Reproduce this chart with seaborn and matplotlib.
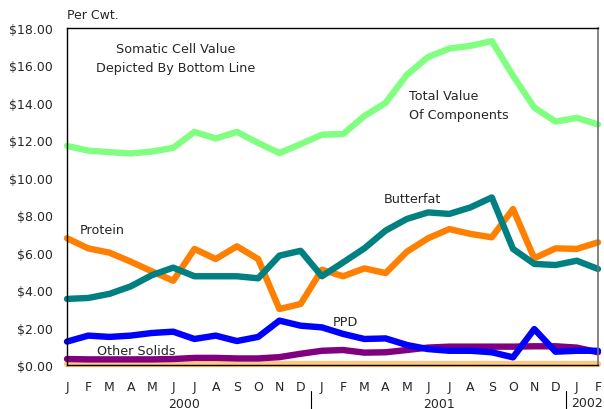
import matplotlib
matplotlib.use("Agg")
import matplotlib.pyplot as plt
import seaborn as sns
import numpy as np
import pandas as pd

months = ["J","F","M","A","M","J","J","A","S","O","N","D",
          "J","F","M","A","M","J","J","A","S","O","N","D",
          "J","F"]
years = ["2000", "2001", "2002"]

total_value = [11.7, 11.45, 11.37, 11.3, 11.4, 11.6, 12.45, 12.1, 12.45, 11.86, 11.32, 11.8,
               12.3, 12.34, 13.3, 14.0, 15.5, 16.45, 16.9, 17.05, 17.3, 15.45, 13.75, 13.0,
               13.2, 12.85]
butterfat = [3.53, 3.58, 3.8, 4.2, 4.8, 5.2, 4.74, 4.74, 4.74, 4.63, 5.84, 6.1,
             4.74, 5.48, 6.23, 7.18, 7.8, 8.15, 8.07, 8.42, 8.95, 6.2, 5.4, 5.34,
             5.57, 5.13]
protein = [6.77, 6.23, 6.0, 5.52, 5.0, 4.5, 6.2, 5.66, 6.34, 5.66, 2.99, 3.26,
           5.09, 4.74, 5.16, 4.91, 6.05, 6.77, 7.26, 7.0, 6.82, 8.33, 5.7, 6.23,
           6.2, 6.55]
ppd = [1.25, 1.57, 1.5, 1.57, 1.71, 1.78, 1.39, 1.57, 1.28, 1.5, 2.37, 2.1,
       2.01, 1.66, 1.39, 1.42, 1.07, 0.85, 0.76, 0.76, 0.68, 0.41, 1.92, 0.71,
       0.76, 0.76]
other_solids = [0.32, 0.30, 0.30, 0.30, 0.30, 0.32, 0.38, 0.38, 0.35, 0.35, 0.42, 0.6,
                0.76, 0.8, 0.66, 0.68, 0.8, 0.93, 0.98, 0.98, 0.98, 0.98, 1.0, 1.0,
                0.93, 0.68]
somatic_cell = [0.06] * 26

sns.set_style("white")
plt.rcParams['font.family'] = ['DejaVu Sans']

fig = plt.figure(figsize=(6.04, 4.10), dpi=100)
ax = fig.add_axes([67/604, 44/410, 531/604, 337/410])

x = np.arange(len(months))
series = [
    (somatic_cell, "#FFC880"),
    (other_solids, "#800080"),
    (ppd, "#0000FF"),
    (protein, "#FF8000"),
    (butterfat, "#008080"),
    (total_value, "#80FF80"),
]
for vals, col in series:
    sns.lineplot(x=x, y=vals, ax=ax, color=col, linewidth=4.6,
                 solid_capstyle="round", solid_joinstyle="round", clip_on=False)

fs_tick = 9
fs_ann = 9.2
ax.set_xlim(0, 25)
ax.set_ylim(0, 18)
ax.set_yticks(np.arange(0, 19, 2))
ax.set_yticklabels([f"${v:.2f}" for v in np.arange(0, 19, 2)], fontsize=fs_tick)
ax.set_xticks(x)
ax.set_xticklabels(months, fontsize=fs_tick)
ax.tick_params(axis="both", length=0)
ax.tick_params(axis="x", pad=11)
ax.tick_params(axis="y", pad=10)
for s in ["left", "top", "bottom"]:
    ax.spines[s].set_color("black")
    ax.spines[s].set_linewidth(1.0)
ax.spines["right"].set_color("#707070")
ax.spines["right"].set_linewidth(1.2)
ax.spines["bottom"].set_zorder(5)

# year labels and separators
trans = ax.get_xaxis_transform()
ax.text(5.5, -0.115, years[0], transform=trans, ha="center", va="center", fontsize=fs_tick)
ax.text(17.5, -0.115, years[1], transform=trans, ha="center", va="center", fontsize=fs_tick)
fig.text(603/604, (410-404)/410, years[2], ha="right", va="center", fontsize=fs_tick)
for xs in [11.5, 23.5]:
    ax.plot([xs, xs], [-0.078, -0.14], transform=trans, color="black", lw=0.8, clip_on=False)

ax.text(0.0, 1.04, "Per Cwt.", transform=ax.transAxes, ha="left", va="center", fontsize=fs_tick)
ax.text(5.1, 16.9, "Somatic Cell Value", ha="center", va="center", fontsize=fs_ann)
ax.text(5.1, 15.9, "Depicted By Bottom Line", ha="center", va="center", fontsize=fs_ann)
ax.text(16.1, 14.4, "Total Value", ha="left", va="center", fontsize=fs_ann)
ax.text(16.1, 13.4, "Of Components", ha="left", va="center", fontsize=fs_ann)
ax.text(14.9, 8.9, "Butterfat", ha="left", va="center", fontsize=fs_ann)
ax.text(0.6, 7.25, "Protein", ha="left", va="center", fontsize=fs_ann)
ax.text(12.5, 2.3, "PPD", ha="left", va="center", fontsize=fs_ann)
ax.text(1.4, 0.75, "Other Solids", ha="left", va="center", fontsize=fs_ann)

fig.savefig("out.png", dpi=100)
